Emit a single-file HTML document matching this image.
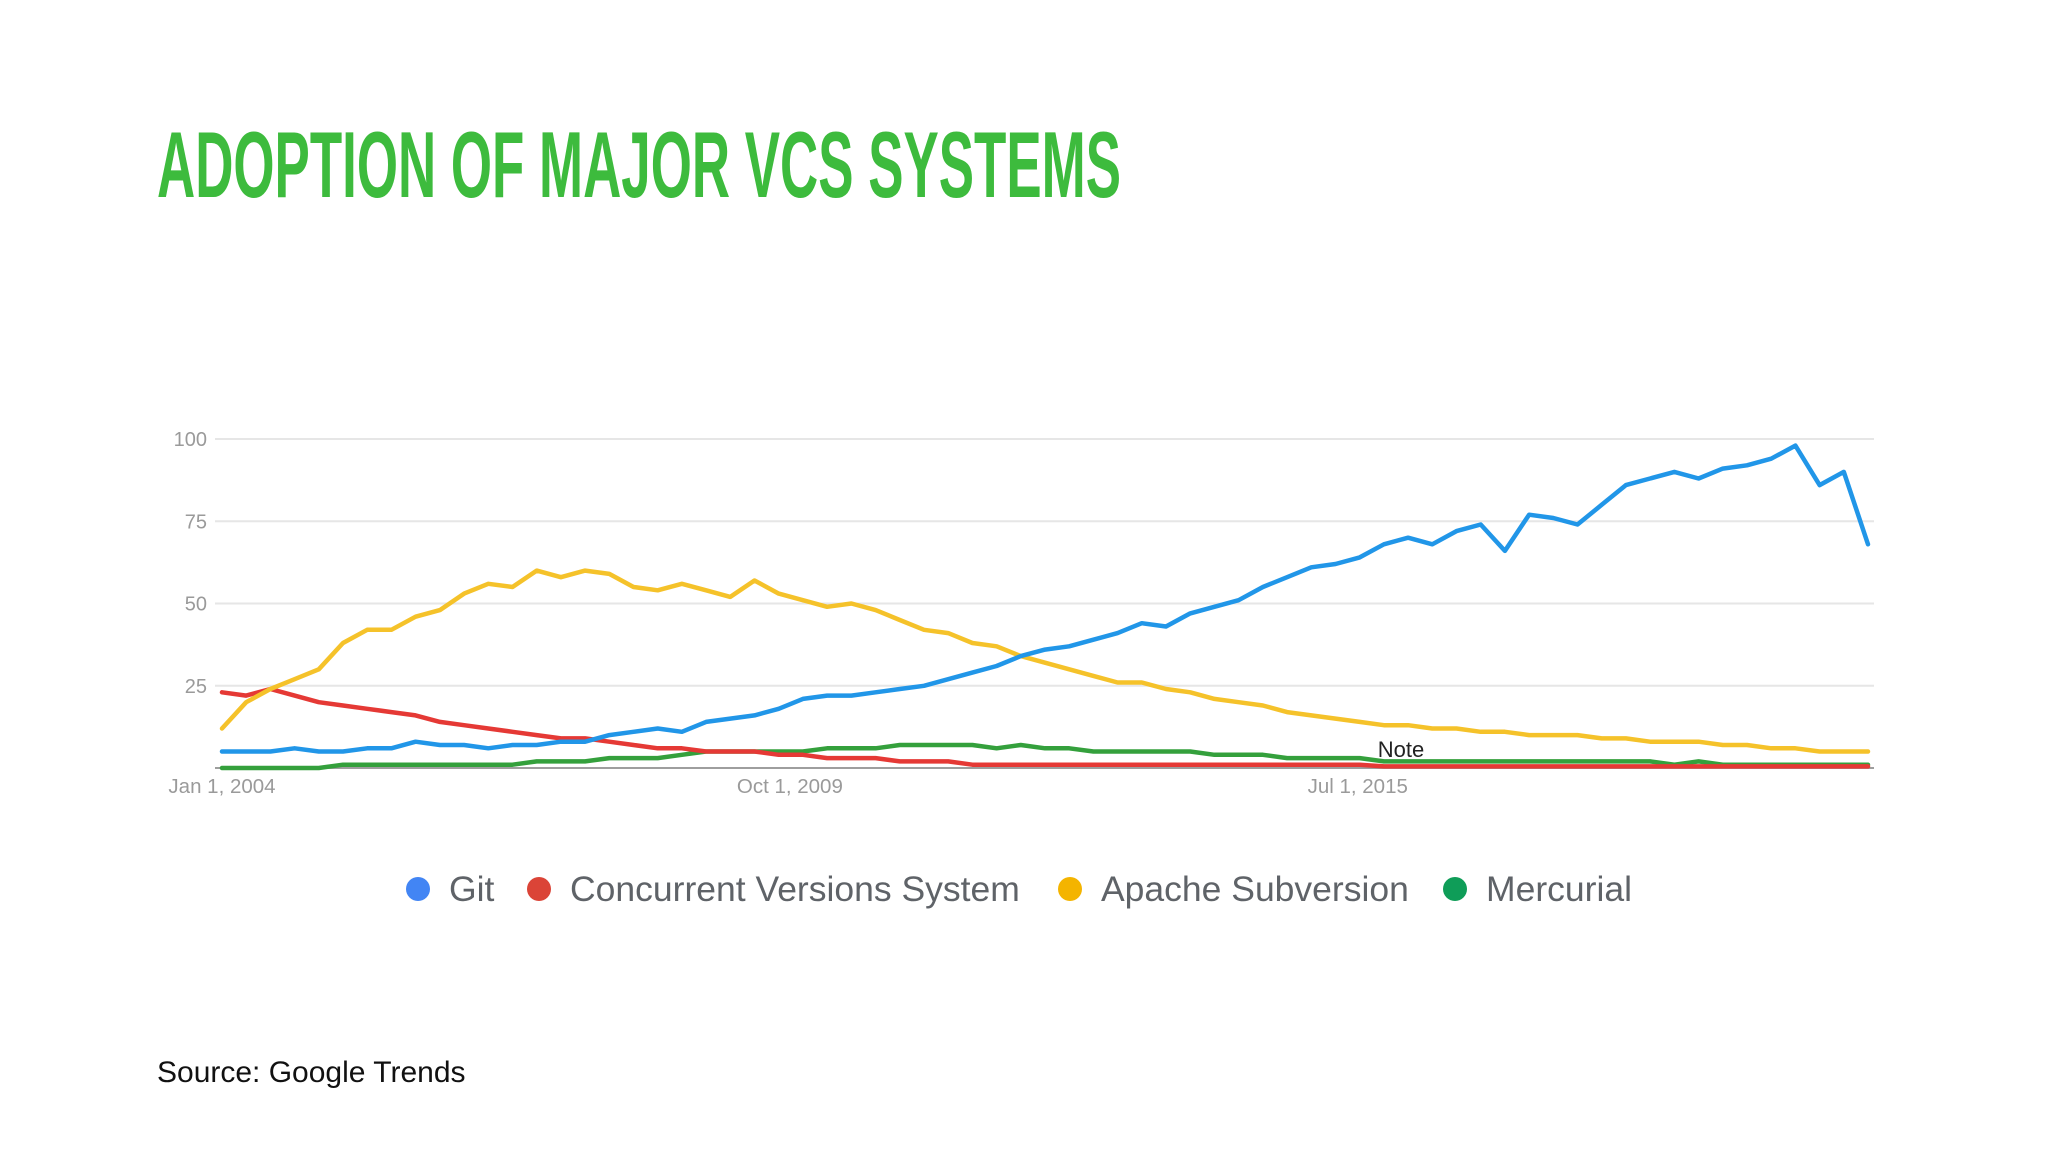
<!DOCTYPE html>
<html><head><meta charset="utf-8"><style>
body{margin:0;background:#fff;}
#wrap{position:relative;width:2048px;height:1152px;overflow:hidden;background:#fff;font-family:"Liberation Sans",sans-serif;}
</style></head><body>
<div id="wrap">
<svg id="svg" width="2048" height="1152" xmlns="http://www.w3.org/2000/svg">
<text x="157" y="197" font-family="Liberation Sans Narrow, Liberation Sans, sans-serif" font-weight="bold" font-size="94" fill="#3dbb3d" textLength="964" lengthAdjust="spacingAndGlyphs">ADOPTION OF MAJOR VCS SYSTEMS</text>
<g id="grid"></g>
<g id="series"></g>
<text x="1401" y="757" font-size="22" fill="#222" text-anchor="middle">Note</text>
<g id="legend"></g>
<text x="157" y="1082" font-size="30" fill="#111">Source: Google Trends</text>
</svg>
</div>
<script>
const yTicks=[0,25,50,75,100];
const yTickLabels=["","25","50","75","100"];
const xTickMonths=[0,69,138];
const xTickLabels=["Jan 1, 2004","Oct 1, 2009","Jul 1, 2015"];
const lastMonth=200;
const seriesNames=["Git","Concurrent Versions System","Apache Subversion","Mercurial"];
const gitValues=[5,5,5,6,5,5,6,6,8,7,7,6,7,7,8,8,10,11,12,11,14,15,16,18,21,22,22,23,24,25,27,29,31,34,36,37,39,41,44,43,47,49,51,55,58,61,62,64,68,70,68,72,74,66,77,76,74,80,86,88,90,88,91,92,94,98,86,90,68];
const cvsValues=[23,22,24,22,20,19,18,17,16,14,13,12,11,10,9,9,8,7,6,6,5,5,5,4,4,3,3,3,2,2,2,1,1,1,1,1,1,1,1,1,1,1,1,1,1,1,1,1,0.5,0.5,0.5,0.5,0.5,0.5,0.5,0.5,0.5,0.5,0.5,0.5,0.5,0.5,0.5,0.5,0.5,0.5,0.5,0.5,0.5];
const svnValues=[12,20,24,27,30,38,42,42,46,48,53,56,55,60,58,60,59,55,54,56,54,52,57,53,51,49,50,48,45,42,41,38,37,34,32,30,28,26,26,24,23,21,20,19,17,16,15,14,13,13,12,12,11,11,10,10,10,9,9,8,8,8,7,7,6,6,5,5,5];
const hgValues=[0,0,0,0,0,1,1,1,1,1,1,1,1,2,2,2,3,3,3,4,5,5,5,5,5,6,6,6,7,7,7,7,6,7,6,6,5,5,5,5,5,4,4,4,3,3,3,3,2,2,2,2,2,2,2,2,2,2,2,2,1,2,1,1,1,1,1,1,1];
const lineColors=["#2196e8","#e53935","#f5c22a","#34a03c"];
const dotColors=["#4285f4","#db4437","#f4b400","#0f9d58"];

const NS="http://www.w3.org/2000/svg";
const X0=222,X1=1868,Y0=768,Y1=439,GX0=215,GX1=1874;
const xScale=m=>X0+(X1-X0)*m/lastMonth;
const yScale=v=>Y0+(Y1-Y0)*v/100;
function mk(tag,attrs,parent){const e=document.createElementNS(NS,tag);for(const k in attrs)e.setAttribute(k,attrs[k]);parent.appendChild(e);return e;}
const grid=document.getElementById('grid');
yTicks.forEach((t,i)=>{
  const l=mk('line',{x1:GX0,x2:GX1,y1:yScale(t),y2:yScale(t),stroke:i==0?'#9e9e9e':'#e6e6e6','stroke-width':2},grid);
  
  
  if(yTickLabels[i]){const tx=mk('text',{x:207,y:yScale(t)+7,'text-anchor':'end','font-size':20,fill:'#9a9a9a'},grid);tx.textContent=yTickLabels[i];
  
  }
});
xTickMonths.forEach((m,i)=>{
  const tx=mk('text',{x:xScale(m),y:793,'text-anchor':'middle','font-size':20.5,fill:'#9a9a9a'},grid);tx.textContent=xTickLabels[i];
  
  
});
const sg=document.getElementById('series');
const allSeries=[gitValues,cvsValues,svnValues,hgValues];
const order=[3,1,2,0];
order.forEach(si=>{
  const vals=allSeries[si];const n=vals.length;
  const pts=vals.map((v,i)=>xScale(lastMonth*i/(n-1)).toFixed(1)+','+yScale(v).toFixed(1)).join(' ');
  const p=mk('polyline',{points:pts,fill:'none',stroke:lineColors[si],'stroke-width':4.5,'stroke-linejoin':'round','stroke-linecap':'round'},sg);
  
  
});
const lg=document.getElementById('legend');
const dotX=[418,539,1070,1455];
seriesNames.forEach((n,i)=>{
  const c=mk('circle',{cx:dotX[i],cy:889,r:12,fill:dotColors[i]},lg);
  
  
  const t=mk('text',{x:dotX[i]+31,y:901,'font-size':35.5,fill:'#5f6368'},lg);t.textContent=n;
  
  
});
</script>
</body></html>
